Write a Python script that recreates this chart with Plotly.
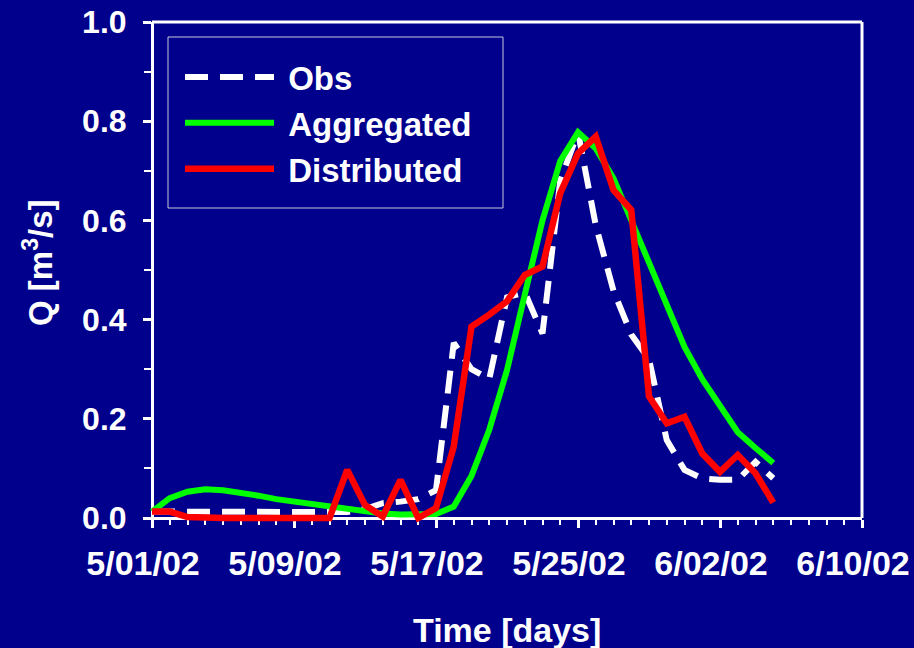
import plotly.graph_objects as go
import pandas as pd
from datetime import datetime, timedelta

# Daily discharge, 1 May - 5 June 2002
dates = pd.date_range("2002-05-01", periods=36, freq="D")

obs = [0.013, 0.013, 0.013, 0.013, 0.013, 0.013, 0.013, 0.014, 0.014, 0.013,
       0.012, 0.012, 0.018, 0.030, 0.033, 0.038, 0.056, 0.353, 0.300, 0.280,
       0.445, 0.455, 0.372, 0.680, 0.778, 0.590, 0.458, 0.370, 0.320, 0.157,
       0.097, 0.080, 0.077, 0.077, 0.113, 0.080]

aggregated = [0.013, 0.040, 0.053, 0.058, 0.056, 0.052, 0.045, 0.038, 0.033, 0.028,
              0.023, 0.018, 0.014, 0.009, 0.007, 0.006, 0.008, 0.023, 0.085, 0.178,
              0.298, 0.450, 0.600, 0.720, 0.778, 0.745, 0.685, 0.600, 0.515, 0.430,
              0.345, 0.280, 0.224, 0.173, 0.141, 0.111]

distributed = [0.013, 0.013, 0.002, 0.0, 0.0, 0.0, 0.0, 0.0, 0.0, 0.0,
               0.0, 0.097, 0.026, 0.003, 0.077, 0.0, 0.020, 0.144, 0.386, 0.410,
               0.437, 0.490, 0.507, 0.655, 0.735, 0.769, 0.661, 0.621, 0.245, 0.191,
               0.204, 0.130, 0.093, 0.127, 0.090, 0.031]

x_tick_dates = ["2002-05-01", "2002-05-09", "2002-05-17", "2002-05-25", "2002-06-02", "2002-06-10"]
x_tick_labels = ["5/01/02", "5/09/02", "5/17/02", "5/25/02", "6/02/02", "6/10/02"]
y_tick_vals = [0.0, 0.2, 0.4, 0.6, 0.8, 1.0]
y_tick_labels = ["0.0", "0.2", "0.4", "0.6", "0.8", "1.0"]

BG = "#00008c"
FONT = "Liberation Sans, Arial, sans-serif"
NBSP = "\u00a0"

W, H = 914, 648
L, R, T, B = 147, 52, 22, 125
PAD = 5  # room left of / below the axes so thick lines at zero stay whole
plot_w = W - L - R
plot_h = H - T - B
day_px = (plot_w - PAD) / 40.0
x_start = datetime(2002, 5, 1) - timedelta(days=PAD / day_px)
y_start = -PAD / (plot_h - PAD)


def px_x(px):
    return (px - L) / plot_w


def px_y(px):
    return 1 - (px - T) / plot_h


fig = go.Figure()
fig.add_trace(go.Scatter(x=dates, y=obs, name=NBSP + "Obs", mode="lines",
                         line=dict(color="white", width=6, dash="23px,12px")))
fig.add_trace(go.Scatter(x=dates, y=aggregated, name=NBSP + "Aggregated", mode="lines",
                         line=dict(color="#00ff00", width=6)))
fig.add_trace(go.Scatter(x=dates, y=distributed, name=NBSP + "Distributed", mode="lines",
                         line=dict(color="#ff0000", width=6.5)))

xtickfont = dict(family=FONT, size=34, color="white", weight="bold")
ytickfont = dict(family=FONT, size=32, color="white", weight="bold")

fig.update_layout(
    width=W, height=H,
    margin=dict(l=L, r=R, t=T, b=B, autoexpand=False),
    paper_bgcolor=BG, plot_bgcolor=BG,
    xaxis=dict(
        type="date", range=[x_start, "2002-06-10"],
        anchor="free", position=PAD / plot_h, automargin=False,
        tickmode="array", tickvals=x_tick_dates, ticktext=x_tick_labels,
        ticks="outside", ticklen=8, tickwidth=2.5, tickcolor="white",
        minor=dict(tick0="2002-05-01", dtick=86400000, ticks="outside",
                   ticklen=5, tickwidth=1.5, tickcolor="white"),
        showline=True, linecolor="white", linewidth=3,
        showgrid=False, zeroline=False, layer="below traces",
        tickfont=xtickfont, ticklabelstandoff=6, ticklabelshift=-9,
        ticklabeloverflow="allow",
    ),
    yaxis=dict(
        range=[y_start, 1.0],
        anchor="free", position=PAD / plot_w, automargin=False,
        tickmode="array", tickvals=y_tick_vals, ticktext=y_tick_labels,
        ticks="outside", ticklen=8, tickwidth=2.5, tickcolor="white",
        minor=dict(tick0=0, dtick=0.1, ticks="outside",
                   ticklen=7, tickwidth=2, tickcolor="white"),
        showline=True, linecolor="white", linewidth=3,
        showgrid=False, zeroline=False, layer="below traces",
        tickfont=ytickfont, ticklabelstandoff=10,
        ticklabeloverflow="allow",
    ),
    legend=dict(
        x=px_x(180), y=px_y(49),
        xanchor="left", yanchor="top",
        bgcolor="rgba(0,0,0,0)", borderwidth=0,
        font=dict(family=FONT, size=33, color="white", weight="bold"),
        itemwidth=89,
    ),
    shapes=[
        # frame: top and right edges of the plotting box
        dict(type="line", xref="paper", yref="paper",
             x0=PAD / plot_w, x1=1, y0=1, y1=1,
             line=dict(color="white", width=3)),
        dict(type="line", xref="paper", yref="paper",
             x0=1, x1=1, y0=PAD / plot_h, y1=1,
             line=dict(color="white", width=3)),
        # legend box
        dict(type="rect", xref="paper", yref="paper",
             x0=px_x(168), x1=px_x(503), y0=px_y(208), y1=px_y(37),
             line=dict(color="#c8c8dc", width=1)),
    ],
    annotations=[
        dict(text="Q [m<sup>3</sup>/s]", textangle=-90, showarrow=False,
             xref="paper", yref="paper",
             x=px_x(38), y=px_y(263),
             xanchor="center", yanchor="middle",
             font=dict(family=FONT, size=33, color="white", weight="bold")),
        dict(text="Time [days]", showarrow=False,
             xref="paper", yref="paper",
             x=px_x(507), y=px_y(630),
             xanchor="center", yanchor="middle",
             font=dict(family=FONT, size=34, color="white", weight="bold")),
    ],
)

fig.write_html("out.html")
